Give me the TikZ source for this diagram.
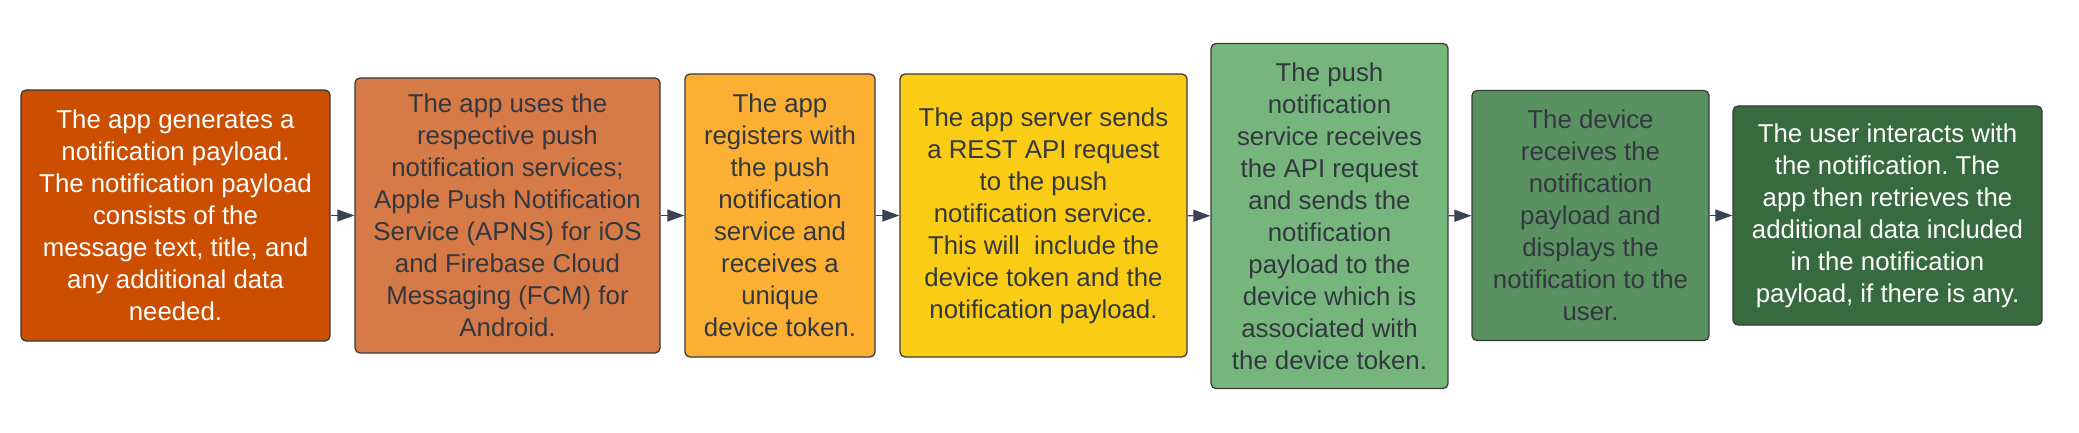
\documentclass[tikz,border=0pt]{standalone}
\usepackage{fontspec}
\setmainfont{Liberation Sans}
\frenchspacing
\usetikzlibrary{arrows.meta}
\definecolor{c1}{HTML}{CC4E00}
\definecolor{c2}{HTML}{D67A47}
\definecolor{c3}{HTML}{FBB034}
\definecolor{c4}{HTML}{FACC15}
\definecolor{c5}{HTML}{76B67D}
\definecolor{c6}{HTML}{5A9160}
\definecolor{c7}{HTML}{376A3E}
\definecolor{edge}{HTML}{3A3A3A}
\definecolor{txt}{HTML}{333840}
\definecolor{arr}{HTML}{3B4252}
\tikzset{
  box/.style={draw=edge, line width=1.3pt, rounded corners=5pt, align=center,
    inner sep=0pt, font=\fontsize{25.8}{32}\selectfont, text=txt},
  light/.style={text=white},
  flow/.style={draw=arr, line width=1.2pt, -{Triangle[length=17pt,width=12pt]}},
}
\begin{document}
\begin{tikzpicture}[x=1pt,y=1pt]
\useasboundingbox (0,0) rectangle (2079,-433);
\node[box, light, fill=c1, minimum width=309pt, minimum height=251pt] (b1) at (175.5,-215.5)
  {The app generates a\\notification payload.\\The notification payload\\consists of the\\message text, title, and\\any additional data\\needed.};
\node[box, fill=c2, minimum width=305pt, minimum height=275pt] (b2) at (507.5,-215.5)
  {The app uses the\\respective push\\notification services;\\Apple Push Notification\\Service (APNS) for iOS\\and Firebase Cloud\\Messaging (FCM) for\\Android.};
\node[box, fill=c3, minimum width=190pt, minimum height=283pt] (b3) at (780,-215.5)
  {The app\\registers with\\the push\\notification\\service and\\receives a\\unique\\device token.};
\node[box, fill=c4, minimum width=287pt, minimum height=283pt] (b4) at (1043.5,-215.5)
  {The app server sends\\a REST API request\\to the push\\notification service.\\This will\ \ include the\\device token and the\\notification payload.};
\node[box, fill=c5, minimum width=237pt, minimum height=345pt] (b5) at (1329.5,-216)
  {The push\\notification\\service receives\\the API request\\and sends the\\notification\\payload to the\\device which is\\associated with\\the device token.};
\node[box, fill=c6, minimum width=237pt, minimum height=250pt] (b6) at (1590.5,-215.5)
  {The device\\receives the\\notification\\payload and\\displays the\\notification to the\\user.};
\node[box, light, fill=c7, minimum width=309pt, minimum height=219pt] (b7) at (1887.5,-215.5)
  {The user interacts with\\the notification. The\\app then retrieves the\\additional data included\\in the notification\\payload, if there is any.};
\draw[flow] (b1) -- (b2);
\draw[flow] (b2) -- (b3);
\draw[flow] (b3) -- (b4);
\draw[flow] (b4) -- (b5);
\draw[flow] (b5) -- (b6);
\draw[flow] (b6) -- (b7);
\end{tikzpicture}
\end{document}
